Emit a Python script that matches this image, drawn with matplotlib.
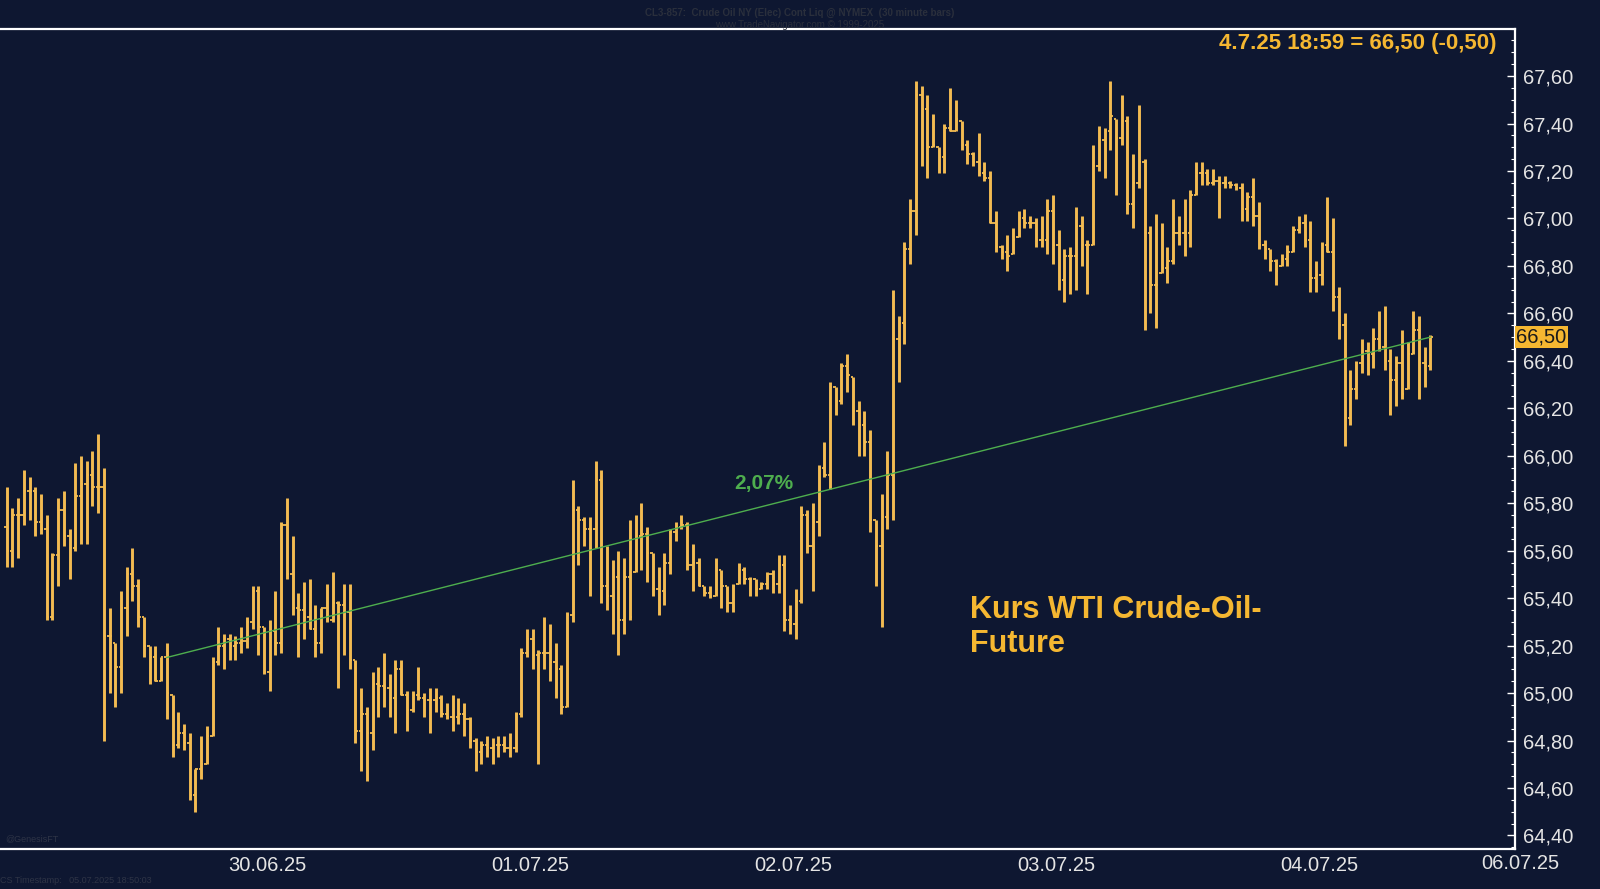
import numpy as np
import matplotlib
matplotlib.use("Agg")
import matplotlib.pyplot as plt
import matplotlib.transforms as mtransforms

plt.rcParams['font.family'] = ['Liberation Sans', 'DejaVu Sans']

# ---------------- data (30-minute bars, CL crude oil) ----------------
highs = [65.87, 65.78, 65.82, 65.94, 65.91, 65.87, 65.84, 65.75, 65.59, 65.82,
         65.85, 65.69, 65.97, 66.00, 65.98, 66.02, 66.09, 65.95, 65.36, 65.21,
         65.43, 65.53, 65.61, 65.48, 65.32, 65.20, 65.20, 65.15, 65.21, 64.99,
         64.92, 64.87, 64.83, 64.68, 64.82, 64.86, 65.15, 65.28, 65.25, 65.25,
         65.24, 65.28, 65.32, 65.45, 65.45, 65.28, 65.31, 65.43, 65.72, 65.82,
         65.66, 65.42, 65.47, 65.48, 65.37, 65.36, 65.46, 65.51, 65.39, 65.46,
         65.46, 65.14, 65.02, 64.94, 65.09, 65.11, 65.17, 65.08, 65.14, 65.14,
         65.01, 65.01, 65.11, 65.00, 65.02, 65.02, 64.99, 64.96, 64.99, 64.98,
         64.96, 64.90, 64.81, 64.80, 64.82, 64.81, 64.82, 64.82, 64.83, 64.92,
         65.19, 65.27, 65.27, 65.18, 65.32, 65.29, 65.21, 65.12, 65.34, 65.90,
         65.79, 65.74, 65.74, 65.98, 65.94, 65.62, 65.56, 65.60, 65.57, 65.73,
         65.75, 65.80, 65.70, 65.59, 65.53, 65.59, 65.69, 65.72, 65.75, 65.72,
         65.63, 65.57, 65.45, 65.45, 65.57, 65.52, 65.45, 65.46, 65.55, 65.53,
         65.49, 65.48, 65.47, 65.51, 65.52, 65.58, 65.58, 65.37, 65.44, 65.79,
         65.77, 65.80, 65.96, 66.06, 66.31, 66.29, 66.39, 66.43, 66.33, 66.23,
         66.19, 66.11, 65.73, 65.84, 66.02, 66.70, 66.59, 66.90, 67.08, 67.58,
         67.56, 67.52, 67.44, 67.30, 67.40, 67.55, 67.50, 67.41, 67.33, 67.28,
         67.36, 67.24, 67.20, 67.03, 66.89, 66.93, 66.96, 67.03, 67.04, 67.01,
         67.00, 67.01, 67.08, 67.10, 66.95, 66.87, 66.88, 67.05, 67.01, 66.91,
         67.31, 67.39, 67.38, 67.58, 67.42, 67.52, 67.43, 67.27, 67.48, 67.25,
         66.97, 67.02, 66.98, 66.88, 67.08, 67.01, 67.08, 67.12, 67.24, 67.24,
         67.21, 67.21, 67.18, 67.18, 67.16, 67.15, 67.15, 67.11, 67.17, 67.07,
         66.91, 66.87, 66.83, 66.85, 66.89, 66.97, 67.01, 67.02, 66.99, 66.82,
         66.90, 67.09, 67.00, 66.71, 66.60, 66.36, 66.40, 66.49, 66.48, 66.54,
         66.61, 66.63, 66.45, 66.42, 66.53, 66.48, 66.61, 66.59, 66.46, 66.51]

lows = [65.53, 65.53, 65.57, 65.71, 65.73, 65.66, 65.67, 65.31, 65.31, 65.45,
        65.62, 65.48, 65.60, 65.63, 65.63, 65.79, 65.76, 64.80, 65.00, 64.94,
        65.00, 65.24, 65.39, 65.28, 65.15, 65.04, 65.05, 65.05, 64.89, 64.73,
        64.77, 64.76, 64.55, 64.50, 64.64, 64.70, 64.82, 65.12, 65.10, 65.14,
        65.14, 65.17, 65.19, 65.27, 65.16, 65.08, 65.01, 65.16, 65.17, 65.48,
        65.33, 65.15, 65.23, 65.27, 65.15, 65.17, 65.30, 65.30, 65.02, 65.16,
        65.10, 64.79, 64.67, 64.63, 64.76, 64.90, 64.94, 64.90, 64.83, 64.99,
        64.84, 64.92, 64.97, 64.90, 64.83, 64.92, 64.90, 64.89, 64.84, 64.87,
        64.82, 64.77, 64.67, 64.70, 64.73, 64.70, 64.73, 64.75, 64.73, 64.75,
        64.90, 65.15, 65.10, 64.70, 65.10, 65.05, 64.98, 64.91, 64.94, 65.30,
        65.54, 65.62, 65.41, 65.61, 65.38, 65.35, 65.25, 65.16, 65.25, 65.31,
        65.51, 65.52, 65.47, 65.41, 65.33, 65.37, 65.50, 65.64, 65.69, 65.52,
        65.43, 65.45, 65.41, 65.40, 65.41, 65.36, 65.34, 65.34, 65.46, 65.46,
        65.41, 65.41, 65.44, 65.44, 65.42, 65.42, 65.26, 65.25, 65.23, 65.38,
        65.59, 65.43, 65.66, 65.91, 65.86, 66.17, 66.22, 66.27, 66.13, 66.00,
        66.00, 65.68, 65.45, 65.28, 65.69, 65.73, 66.31, 66.47, 66.81, 66.93,
        67.22, 67.17, 67.30, 67.19, 67.19, 67.37, 67.37, 67.29, 67.23, 67.22,
        67.18, 67.16, 66.98, 66.86, 66.83, 66.78, 66.85, 66.92, 66.96, 66.96,
        66.88, 66.88, 66.85, 66.81, 66.70, 66.65, 66.68, 66.70, 66.80, 66.68,
        66.89, 67.20, 67.17, 67.29, 67.10, 67.31, 67.02, 66.96, 67.13, 66.53,
        66.60, 66.54, 66.77, 66.73, 66.81, 66.89, 66.84, 66.88, 67.10, 67.14,
        67.14, 67.14, 67.00, 67.13, 67.13, 67.12, 66.99, 66.99, 66.97, 66.87,
        66.83, 66.78, 66.72, 66.80, 66.80, 66.86, 66.94, 66.88, 66.69, 66.69,
        66.72, 66.86, 66.61, 66.49, 66.04, 66.13, 66.24, 66.35, 66.34, 66.37,
        66.44, 66.36, 66.17, 66.21, 66.24, 66.28, 66.43, 66.24, 66.29, 66.36]

closes = [65.60, 65.75, 65.75, 65.85, 65.85, 65.72, 65.69, 65.32, 65.58, 65.77,
          65.66, 65.61, 65.83, 65.88, 65.92, 65.87, 65.87, 65.24, 65.24, 65.11,
          65.36, 65.50, 65.45, 65.32, 65.20, 65.15, 65.05, 65.15, 65.00, 64.78,
          64.83, 64.79, 64.57, 64.68, 64.70, 64.82, 65.13, 65.20, 65.23, 65.20,
          65.21, 65.22, 65.30, 65.43, 65.28, 65.09, 65.26, 65.21, 65.71, 65.50,
          65.36, 65.35, 65.32, 65.27, 65.21, 65.36, 65.31, 65.38, 65.37, 65.34,
          65.14, 64.84, 64.91, 64.83, 65.04, 65.03, 65.02, 64.98, 65.10, 64.99,
          64.93, 64.99, 64.98, 64.97, 64.97, 64.98, 64.91, 64.90, 64.90, 64.91,
          64.89, 64.80, 64.75, 64.78, 64.77, 64.78, 64.78, 64.77, 64.77, 64.91,
          65.17, 65.23, 65.16, 65.17, 65.17, 65.13, 65.10, 64.94, 65.33, 65.77,
          65.73, 65.69, 65.69, 65.90, 65.45, 65.41, 65.49, 65.31, 65.49, 65.32,
          65.66, 65.67, 65.59, 65.44, 65.43, 65.55, 65.68, 65.70, 65.71, 65.54,
          65.55, 65.45, 65.42, 65.41, 65.52, 65.45, 65.38, 65.45, 65.52, 65.48,
          65.48, 65.44, 65.46, 65.50, 65.46, 65.54, 65.31, 65.29, 65.39, 65.75,
          65.62, 65.72, 65.95, 65.92, 66.29, 66.23, 66.38, 66.34, 66.19, 66.13,
          66.06, 65.73, 65.62, 65.74, 65.92, 66.49, 66.56, 66.87, 67.03, 67.52,
          67.46, 67.30, 67.31, 67.26, 67.38, 67.37, 67.42, 67.31, 67.27, 67.24,
          67.19, 67.17, 66.98, 66.88, 66.86, 66.84, 66.91, 67.00, 66.98, 66.98,
          66.91, 66.91, 67.03, 66.89, 66.74, 66.84, 66.84, 66.97, 66.89, 66.89,
          67.22, 67.33, 67.37, 67.43, 67.34, 67.41, 67.06, 67.15, 67.24, 66.94,
          66.72, 66.72, 66.79, 66.82, 66.94, 66.94, 66.94, 67.10, 67.19, 67.19,
          67.15, 67.16, 67.15, 67.15, 67.14, 67.13, 67.04, 67.09, 67.01, 66.89,
          66.87, 66.82, 66.78, 66.83, 66.86, 66.95, 66.98, 66.91, 66.75, 66.76,
          66.89, 66.86, 66.67, 66.55, 66.16, 66.28, 66.39, 66.44, 66.43, 66.49,
          66.46, 66.40, 66.32, 66.39, 66.26, 66.43, 66.53, 66.39, 66.38, 66.50]

first_open = 65.70
day_labels = ["30.06.25", "01.07.25", "02.07.25", "03.07.25", "04.07.25"]
day_positions = [45.5, 91.5, 137.5, 183.5, 229.5]
last_label = "06.07.25"
last_label_pos = 264.7

y_ticks = [64.40, 64.60, 64.80, 65.00, 65.20, 65.40, 65.60, 65.80,
           66.00, 66.20, 66.40, 66.60, 66.80, 67.00, 67.20, 67.40, 67.60]

trend_x = [28, 249]
trend_y = [65.15, 66.50]
trend_pct = "2,07%"
last_price = 66.50
header_txt = "4.7.25 18:59 = 66,50 (-0,50)"

# ---------------- styling ----------------
BG = '#0E1731'
BAR = '#F2BB52'
TXT = '#E4E4E4'
GOLD = '#F5B731'
GREEN = '#4EAE4E'

highs = np.array(highs)
lows = np.array(lows)
closes = np.clip(np.array(closes), lows, highs)
opens = np.clip(np.array([first_open] + list(closes[:-1])), lows, highs)
x = np.arange(len(highs))

fig = plt.figure(figsize=(16, 8.89), dpi=100, facecolor=BG)
ax = fig.add_axes([0.0, 0.045, 0.9469, 0.9228], facecolor=BG)

ax.set_xlim(-1.17, 263.8)
ax.set_ylim(64.343, 67.797)

# OHLC bars
ax.vlines(x, lows, highs, color=BAR, lw=2.1, zorder=3)
ax.hlines(opens, x - 0.42, x, color=BAR, lw=1.3, zorder=3)
ax.hlines(closes, x, x + 0.42, color=BAR, lw=1.3, zorder=3)

# trend line
ax.plot(trend_x, trend_y, color=GREEN, lw=1.0, zorder=4)
ax.text(132.5, 65.885, trend_pct, color=GREEN, fontsize=15, fontweight='bold',
        ha='center', va='center', zorder=5)

# spines
for s in ['top', 'right', 'bottom']:
    ax.spines[s].set_color('white')
    ax.spines[s].set_linewidth(1.6)
ax.spines['left'].set_visible(False)

# y axis on right
ax.yaxis.tick_right()
ax.set_yticks(y_ticks)
ax.set_yticklabels([f"{v:.2f}".replace('.', ',') for v in y_ticks])
ax.set_yticks(np.arange(64.35, 67.80, 0.05), minor=True)
ax.tick_params(axis='y', which='major', direction='in', length=6, width=1,
               color='white', labelcolor=TXT, labelsize=14.5, pad=6,
               left=False, right=True)
ax.tick_params(axis='y', which='minor', direction='in', length=3, width=0.8,
               color='white', left=False, right=True)

# x axis
ax.set_xticks(day_positions)
ax.set_xticklabels(day_labels)
ax.tick_params(axis='x', length=0, labelcolor=TXT, labelsize=14.5, pad=5)
trans = mtransforms.blended_transform_factory(ax.transData, ax.transAxes)
ax.text(last_label_pos, -0.0065, last_label, transform=trans, color=TXT,
        fontsize=14.5, ha='center', va='top', clip_on=False)

# last price box
ax.text(1.0008, last_price, "66,50",
        transform=mtransforms.blended_transform_factory(ax.transAxes, ax.transData),
        color='#1A1A1A', fontsize=14.5, ha='left', va='center', clip_on=False,
        bbox=dict(boxstyle='square,pad=0.08', facecolor=GOLD, edgecolor='none'), zorder=6)

# header inside plot
ax.text(0.9875, 0.995, header_txt, transform=ax.transAxes, color=GOLD,
        fontsize=16, fontweight='bold', ha='right', va='top')

# annotation
ax.text(168.4, 65.279, "Kurs WTI Crude-Oil-\nFuture", color=GOLD, fontsize=22,
        fontweight='bold', ha='left', va='center', linespacing=1.2)

# faint header / footer text
fig.text(0.5, 0.991, "CL3-857:  Crude Oil NY (Elec) Cont Liq @ NYMEX  (30 minute bars)",
         color='#2A2F3C', fontsize=7, ha='center', va='top', fontweight='bold')
fig.text(0.5, 0.977, "www.TradeNavigator.com \u00a9 1999-2025",
         color='#2A2F3C', fontsize=7, ha='center', va='top')
fig.text(0.003, 0.052, "@GenesisFT", color='#2E3446', fontsize=6.5, ha='left', va='bottom')
fig.text(0.0, 0.004, "CS Timestamp:   05.07.2025 18:50:03", color='#2E3446',
         fontsize=6.5, ha='left', va='bottom')

fig.savefig("out.png", dpi=100, facecolor=BG)
